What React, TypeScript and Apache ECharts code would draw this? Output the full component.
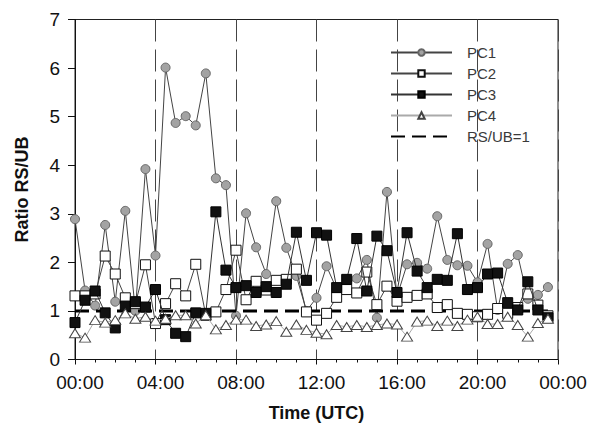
import React, { useEffect, useRef } from "react";
import * as echarts from "echarts";

// Half-hourly sampling times (hours UTC)
const HOURS = [
  0, 0.5, 1, 1.5, 2, 2.5, 3, 3.5, 4, 4.5, 5, 5.5, 6, 6.5, 7, 7.5,
  8, 8.5, 9, 9.5, 10, 10.5, 11, 11.5, 12, 12.5, 13, 13.5, 14, 14.5, 15, 15.5,
  16, 16.5, 17, 17.5, 18, 18.5, 19, 19.5, 20, 20.5, 21, 21.5, 22, 22.5, 23, 23.5,
];

const PC1 = [
  2.89, 1.42, 1.11, 2.77, 1.19, 3.06, 1.0, 3.92, 2.14, 6.01, 4.87, 5.01, 4.82, 5.89, 3.73, 3.59,
  0.9, 3.01, 2.31, 1.76, 3.26, 2.3, 1.72, 1.0, 1.27, 1.92, 1.45, 1.55, 1.67, 2.05, 0.86, 3.45,
  1.3, 1.96, 1.99, 1.87, 2.95, 2.05, 1.94, 1.93, 1.59, 2.38, 1.02, 1.97, 2.15, 1.25, 1.33, 1.49,
];

const PC2 = [
  1.31, 1.31, 1.35, 2.13, 1.76, 1.27, 1.15, 1.95, 0.74, 1.15, 1.56, 1.31, 1.96, 0.91, 0.98, 1.44,
  2.25, 1.23, 1.61, 1.43, 1.63, 1.65, 1.86, 0.98, 0.81, 0.95, 1.28, 1.44, 1.37, 1.8, 1.13, 1.51,
  1.2, 1.28, 1.32, 1.35, 1.07, 1.13, 0.95, 0.93, 0.88, 0.93, 1.05, 0.95, 1.07, 1.35, 1.12, 0.9,
];

const PC3 = [
  0.76, 1.22, 1.41, 0.96, 0.65, 1.1, 1.19, 1.08, 1.44, 0.82, 0.54, 0.47, 0.96, 0.95, 3.04, 1.84,
  1.48, 1.52, 1.38, 1.5, 1.38, 1.55, 2.62, 1.63, 2.61, 2.56, 1.48, 1.65, 2.49, 1.41, 2.54, 2.24,
  1.38, 2.61, 1.82, 1.48, 1.65, 1.63, 2.59, 1.44, 1.48, 1.76, 1.78, 1.17, 1.02, 1.6, 1.02, 0.86,
];

const PC4 = [
  0.54, 0.45, 0.81, 0.76, 0.81, 0.95, 0.84, 0.88, 0.8, 0.84, 0.91, 0.91, 0.74, 0.91, 0.62, 0.71,
  0.82, 0.82, 0.69, 0.72, 0.79, 0.57, 0.72, 0.61, 0.55, 0.52, 0.71, 0.67, 0.71, 0.67, 0.71, 0.74,
  0.72, 0.47, 0.78, 0.8, 0.69, 0.8, 0.69, 0.82, 0.88, 0.73, 0.73, 0.88, 0.71, 0.47, 0.75, 0.84,
];

const RS_UB_LEVEL = 1;
const Y_TICKS = [0, 1, 2, 3, 4, 5, 6, 7];
const X_TICK_LABELS = ["00:00", "04:00", "08:00", "12:00", "16:00", "20:00", "00:00"];

const FONT = "'Liberation Sans', Arial, Helvetica, sans-serif";

const pair = (vals: number[]) => HOURS.map((h, i) => [h, vals[i]]);

export default function App() {
  const ref = useRef<HTMLDivElement>(null);

  useEffect(() => {
    if (!ref.current) return;
    const chart = echarts.init(ref.current, null, { renderer: "svg" });

    const lineBase = { type: "line" as const, showSymbol: true, symbolKeepAspect: true };

    chart.setOption({
      animation: false,
      backgroundColor: "#ffffff",
      grid: {
        left: 75,
        right: 33,
        top: 19.5,
        bottom: 74.5,
        show: true,
        borderColor: "#222",
        borderWidth: 1,
        backgroundColor: "transparent",
      },
      legend: {
        orient: "vertical",
        left: 390,
        top: 45,
        itemWidth: 61,
        itemHeight: 8,
        itemGap: 6,
        padding: 0,
        data: [
          "PC1",
          "PC2",
          "PC3",
          "PC4",
          { name: "RS/UB=1", itemStyle: { opacity: 0 } },
        ],
        textStyle: {
          fontFamily: FONT,
          fontSize: 15,
          color: "#3a3a3a",
          padding: [0, 0, 0, 10],
        },
      },
      xAxis: {
        type: "value",
        min: 0,
        max: 24,
        interval: 4,
        name: "Time (UTC)",
        nameLocation: "middle",
        nameGap: 44,
        nameTextStyle: { fontFamily: FONT, fontSize: 18, fontWeight: "bold", color: "#111" },
        axisLine: { show: true, onZero: false, lineStyle: { color: "#111", width: 1 } },
        axisTick: { show: true, length: 5, lineStyle: { color: "#111" } },
        minorTick: { show: true, splitNumber: 4, length: 3, lineStyle: { color: "#111" } },
        splitLine: { show: true, lineStyle: { color: "#444", width: 1, type: [22, 8] } },
        axisLabel: {
          fontFamily: FONT,
          fontSize: 19,
          color: "#111",
          margin: 13,
          padding: [0, 0, 0, 10],
          formatter: (v: number) => X_TICK_LABELS[Math.round(v / 4)] ?? "",
        },
      },
      yAxis: {
        type: "value",
        min: Y_TICKS[0],
        max: Y_TICKS[Y_TICKS.length - 1],
        interval: 1,
        name: "Ratio RS/UB",
        nameLocation: "middle",
        nameGap: 44,
        nameRotate: 90,
        nameTextStyle: { fontFamily: FONT, fontSize: 18, fontWeight: "bold", color: "#111" },
        axisLine: { show: true, onZero: false, lineStyle: { color: "#111", width: 1 } },
        axisTick: { show: true, length: 7, lineStyle: { color: "#111" } },
        splitLine: { show: false },
        axisLabel: { fontFamily: FONT, fontSize: 19, color: "#111", margin: 15 },
      },
      series: [
        {
          ...lineBase,
          name: "PC1",
          data: pair(PC1),
          symbol: "circle",
          symbolSize: 9,
          lineStyle: { color: "#444", width: 1 },
          itemStyle: { color: "#a3a3a3", borderColor: "#666", borderWidth: 1 },
          z: 2,
        },
        {
          type: "line",
          name: "RS/UB=1",
          data: HOURS.map((h) => [h, RS_UB_LEVEL]),
          showSymbol: false,
          symbol: "none",
          lineStyle: { color: "#000", width: 3, type: [14, 7] },
          itemStyle: { color: "#000" },
          z: 3,
        },
        {
          ...lineBase,
          name: "PC2",
          data: pair(PC2),
          symbol: "rect",
          symbolSize: 10,
          lineStyle: { color: "#444", width: 1 },
          itemStyle: { color: "#ffffff", borderColor: "#111", borderWidth: 1 },
          z: 4,
        },
        {
          ...lineBase,
          name: "PC3",
          data: pair(PC3),
          symbol: "rect",
          symbolSize: 10,
          lineStyle: { color: "#333", width: 1 },
          itemStyle: { color: "#111", borderColor: "#000", borderWidth: 1 },
          z: 5,
        },
        {
          ...lineBase,
          name: "PC4",
          data: pair(PC4),
          symbol: "triangle",
          symbolSize: [11, 9],
          lineStyle: { color: "#aaa", width: 1 },
          itemStyle: { color: "#ffffff", borderColor: "#444", borderWidth: 1 },
          z: 6,
        },
      ],
    });

    return () => chart.dispose();
  }, []);

  return (
    <div
      ref={ref}
      style={{ position: "absolute", left: 0, top: 0, width: 591, height: 434, background: "#fff" }}
    />
  );
}
